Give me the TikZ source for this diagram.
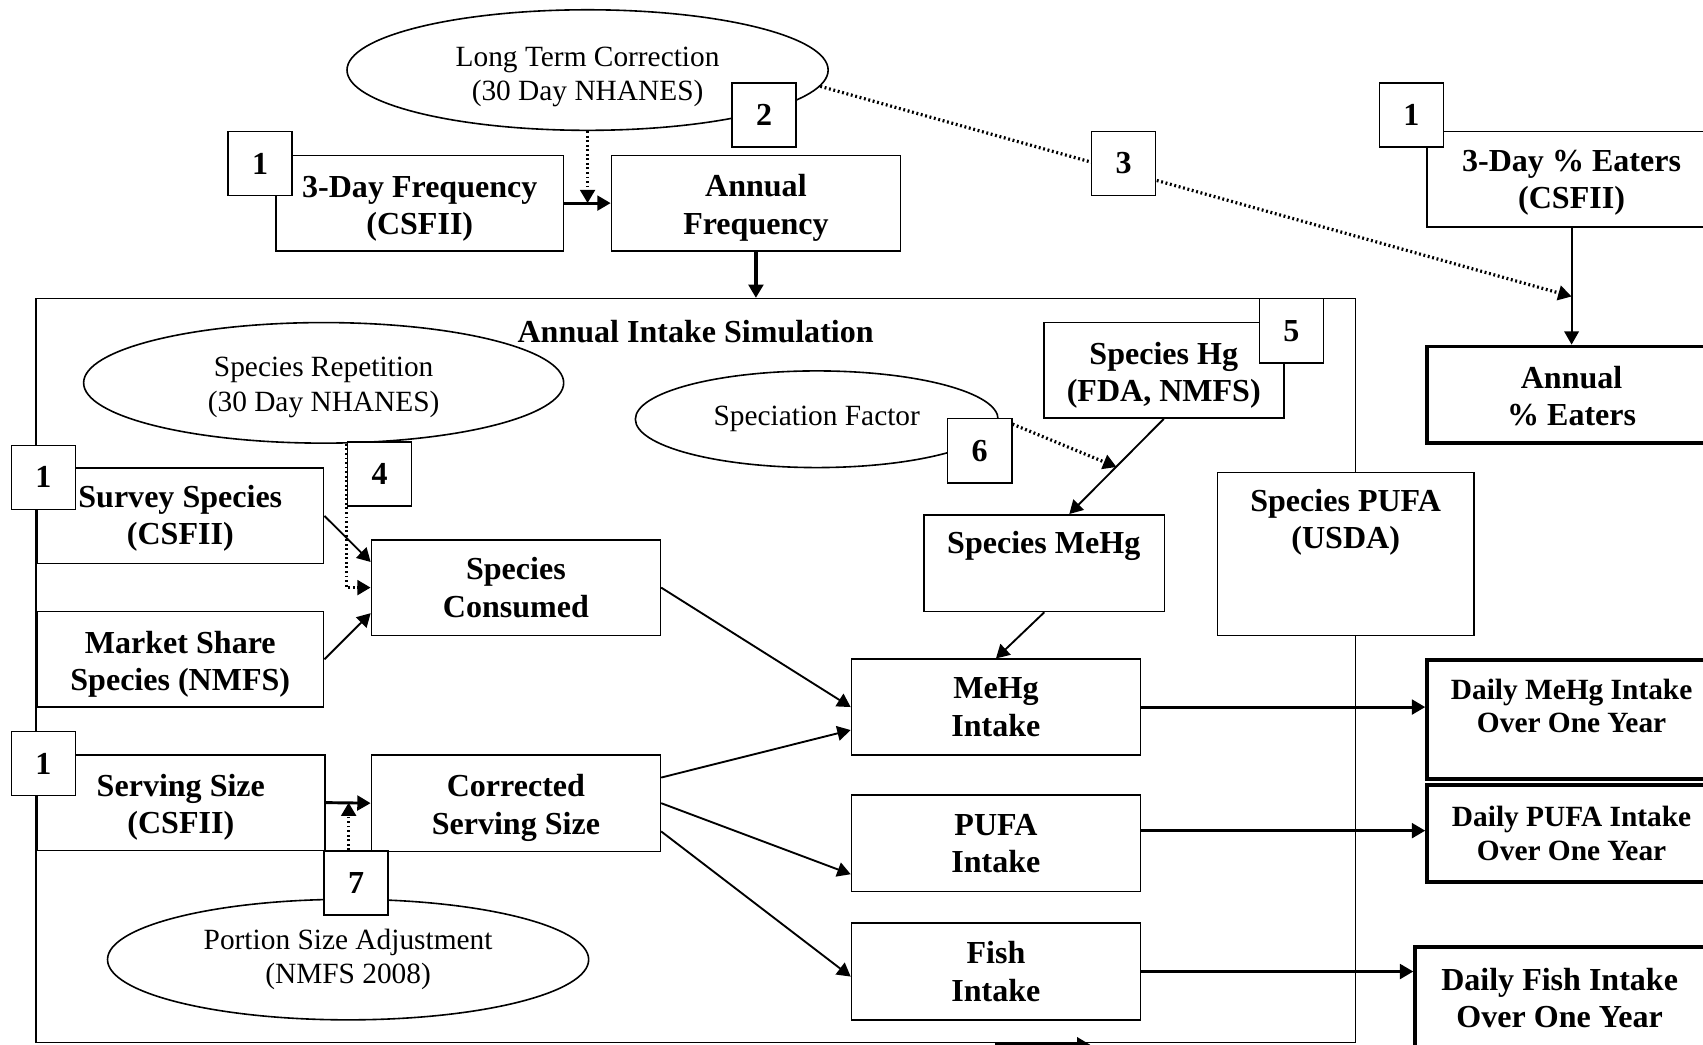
\documentclass[tikz,border=0pt]{standalone}
\usepackage{fontspec}
\setmainfont{Liberation Serif}
\usetikzlibrary{arrows.meta}
\usetikzlibrary{shapes.geometric}

\newcommand{\pxu}{0.0143cm}

\tikzset{
  dims/.style 2 args={minimum width=#1*\pxu, minimum height=#2*\pxu},
  lowered/.style={execute at begin node={\rule{0pt}{#1}}},
  box/.style={draw, fill=white, line width=0.6pt, align=center, inner sep=0pt,
    font=\bfseries\fontsize{12}{14}\selectfont},
  lbox/.style={box, lowered=26pt},
  outbox/.style={box, line width=1.4pt},
  numbox/.style={box, dims={59}{59}},
  oval/.style={draw, fill=white, ellipse, line width=0.6pt, align=center, inner sep=0pt,
    font=\fontsize{11}{13}\selectfont},
  txt/.style={align=center, inner sep=0pt, font=\bfseries\fontsize{12}{14}\selectfont},
  smalltxt/.style={txt, font=\bfseries\fontsize{11}{12.5}\selectfont},
  arr/.style={-{Triangle[length=5pt,width=5.5pt]}, line width=0.7pt},
  thickarr/.style={arr, line width=1.1pt},
  dotarr/.style={arr, densely dotted, line width=1.2pt},
}

\begin{document}
\begin{tikzpicture}[x=0.0143cm, y=-0.0143cm]
\useasboundingbox (0,0) rectangle (1568,962);

% simulation frame
\node[draw, line width=0.6pt, dims={1215}{685}, inner sep=0pt] (sim) at (640.5,617.5) {};
\node[txt] (simtitle) at (640.5,305) {Annual Intake Simulation};

% frequency and eaters
\node[oval, lowered=25.5pt, dims={443}{111}] (ltc) at (541,64.5) {Long Term Correction\\(30 Day NHANES)};
\node[lbox, dims={265}{88}] (freq3) at (386.5,187) {3-Day Frequency\\(CSFII)};
\node[lbox, dims={266}{88}] (annfreq) at (696,187) {Annual\\Frequency};
\node[box, dims={286}{88}] (eat3) at (1457,165) {};
\node[txt] (eat3txt) at (1447,168) {3-Day \% Eaters\\(CSFII)};
\node[outbox, dims={286}{89}] (anneat) at (1457,363.5) {};
\node[txt] (anneattxt) at (1447,364.5) {Annual\\\% Eaters};

% species and serving size
\node[oval, lowered=23.5pt, dims={442}{111}] (rep) at (298,352.5) {Species Repetition\\(30 Day NHANES)};
\node[box, lowered=24pt, dims={264}{88}] (survey) at (166,475) {Survey Species\\(CSFII)};
\node[lbox, dims={264}{88}] (market) at (166,607) {Market Share\\Species (NMFS)};
\node[box, dims={266}{88}] (cons) at (475,541) {Species\\Consumed};
\node[lbox, dims={265}{88}] (serv) at (166.5,739) {Serving Size\\(CSFII)};
\node[lbox, dims={266}{89}] (corr) at (475,739.5) {Corrected\\Serving Size};
\node[oval, dims={443}{111}] (port) at (320.5,883.5) {Portion Size Adjustment\\(NMFS 2008)};

% concentrations
\node[oval, dims={334}{89}] (spfac) at (752,386) {Speciation Factor};
\node[lbox, dims={221}{88}] (sphg) at (1071.5,341) {Species Hg\\(FDA, NMFS)};
\node[box, dims={221}{89}] (spmehg) at (961.5,518.5) {};
\node[txt] (spmehgtxt) at (961,503) {Species MeHg};
\node[box, dims={236}{150}] (sppufa) at (1239,510) {};
\node[txt] (sppufatxt) at (1239,481) {Species PUFA\\(USDA)};

% intakes
\node[box, dims={266}{88}] (mehgin) at (917,651) {MeHg\\Intake};
\node[box, dims={266}{89}] (pufain) at (917,776.5) {PUFA\\Intake};
\node[box, dims={266}{89}] (fishin) at (917,894.5) {Fish\\Intake};
\node[outbox, dims={286}{109}] (dmehg) at (1457,662.5) {};
\node[smalltxt] (dmehgtxt) at (1447,650) {Daily MeHg Intake\\Over One Year};
\node[outbox, dims={286}{89}] (dpufa) at (1457,767.5) {};
\node[smalltxt] (dpufatxt) at (1447,767.5) {Daily PUFA Intake\\Over One Year};
\node[outbox, dims={297}{98}] (dfish) at (1451.5,921) {};
\node[txt] (dfishtxt) at (1436,919) {Daily Fish Intake\\Over One Year};

% numbered steps
\node[numbox] (num1a) at (239.5,150.5) {1};
\node[numbox] (num2) at (703.5,106) {2};
\node[numbox] (num1b) at (1299.5,106) {1};
\node[numbox] (num1c) at (40,439.5) {1};
\node[numbox] (num4) at (349.5,436.5) {4};
\node[numbox] (num5) at (1189,304.5) {5};
\node[numbox] (num6) at (902,415) {6};
\node[numbox] (num1d) at (40,703) {1};
\node[numbox] (num7) at (328,813) {7};

\coordinate (eatjoin) at (1447,273);
\coordinate (hgjoin) at (1028,430);
\coordinate (botstart) at (916,962);
\coordinate (botend) at (1004,962);

\draw[thickarr] (freq3.east) -- (annfreq.west);
\draw[dotarr] (ltc.south) -- (ltc.south |- freq3.east);
\draw[arr, line width=1.4pt] (annfreq.south) -- (annfreq.south |- sim.north);
\draw[dotarr] (ltc.-4) -- (eatjoin);
\draw[arr] (eatjoin |- eat3.south) -- (eatjoin |- anneat.north);

\draw[dotarr] (rep.south -| num4.west) |- (cons.west);
\draw[arr] (survey.east) -- (cons.170);
\draw[arr] (market.east) -- (cons.190);
\draw[arr] (cons.east) -- (mehgin.west);
\draw[thickarr] (serv.east) -- (corr.west);
\draw[dotarr] (num7.103) -- (num7.103 |- serv.east);
\draw[arr] (corr.10) -- (mehgin.189);
\draw[arr] (corr.east) -- (pufain.192);
\draw[arr] (corr.-11) -- (fishin.182);

\draw[arr] (sphg.south) -- (spmehg.63);
\draw[dotarr] (num6.39) -- (hgjoin);
\draw[arr] (spmehg.south) -- (mehgin.north);

\draw[thickarr] (mehgin.east) -- (mehgin.east -| dmehg.west);
\draw[thickarr] (pufain.5) -- (pufain.5 -| dpufa.west);
\draw[thickarr] (fishin.east) -- (fishin.east -| dfish.west);
\draw[arr, line width=1.4pt] (botstart) -- (botend);

% step 3 sits on the dotted line
\node[numbox] (num3) at (1034.5,150.5) {3};

\end{tikzpicture}
\end{document}
